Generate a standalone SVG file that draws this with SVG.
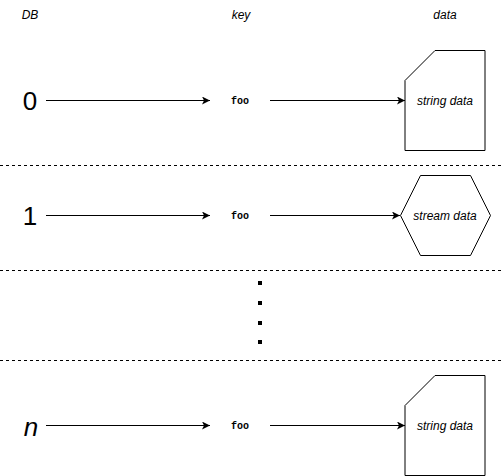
<svg xmlns="http://www.w3.org/2000/svg" width="502" height="476" viewBox="0 0 502 476">
<defs>
<marker id="arr" markerWidth="10" markerHeight="10" refX="8" refY="4" orient="auto" markerUnits="userSpaceOnUse">
<path d="M0,0 L8,4 L0,8 L2,4 Z" fill="#000"/>
</marker>
<style>
.hdr{font-family:"Liberation Sans",Arial,sans-serif;font-size:12px;font-style:italic;fill:#000;text-anchor:middle}
.db{font-family:"Liberation Sans",Arial,sans-serif;font-size:26px;fill:#000;text-anchor:middle}
.key{font-family:"Liberation Mono","Courier New",monospace;font-size:10px;font-weight:bold;fill:#000;text-anchor:middle}
.lbl{font-family:"Liberation Sans",Arial,sans-serif;font-size:12px;font-style:italic;fill:#000;text-anchor:middle}
.shape{fill:#fff;stroke:#000;stroke-width:1}
.sep{stroke:#000;stroke-width:1;stroke-dasharray:3 3}
.edge{stroke:#000;stroke-width:1;fill:none;marker-end:url(#arr)}
</style>
</defs>
<rect width="502" height="476" fill="#fff"/>
<g id="headers">
<text class="hdr" x="30" y="19">DB</text>
<text class="hdr" x="241" y="19">key</text>
<text class="hdr" x="445" y="19">data</text>
</g>
<g id="separators">
<line class="sep" x1="0" y1="165.5" x2="502" y2="165.5"/>
<line class="sep" x1="0" y1="270.5" x2="502" y2="270.5"/>
<line class="sep" x1="0" y1="360.5" x2="502" y2="360.5"/>
</g>
<g id="db0"><text class="db" x="30" y="110">0</text></g>
<g id="key0"><text class="key" x="240" y="104">foo</text></g>
<g id="data0">
<path class="shape" d="M435,50.5 L485,50.5 L485,150.5 L405,150.5 L405,80.5 Z"/>
<text class="lbl" x="445" y="104.5">string data</text>
</g>
<g id="db1"><text class="db" x="30" y="225">1</text></g>
<g id="key1"><text class="key" x="240" y="219">foo</text></g>
<g id="data1">
<path class="shape" d="M400.5,215.5 L420.5,175.5 L470.5,175.5 L490.5,215.5 L470.5,255.5 L420.5,255.5 Z"/>
<text class="lbl" x="445" y="219.5">stream data</text>
</g>
<g id="ellipsis">
<rect x="258" y="281" width="4" height="4" fill="#000"/>
<rect x="258" y="301" width="4" height="4" fill="#000"/>
<rect x="258" y="321" width="4" height="4" fill="#000"/>
<rect x="258" y="340" width="4" height="4" fill="#000"/>
</g>
<g id="dbn"><text class="db" x="31" y="436" font-size="30" font-style="italic">n</text></g>
<g id="keyn"><text class="key" x="240" y="429">foo</text></g>
<g id="datan">
<path class="shape" d="M435,375.5 L485,375.5 L485,475.5 L405,475.5 L405,405.5 Z"/>
<text class="lbl" x="445" y="429.5">string data</text>
</g>
<g id="connectors">
<line class="edge" x1="46" y1="100.5" x2="210" y2="100.5"/>
<line class="edge" x1="270" y1="100.5" x2="405" y2="100.5"/>
<line class="edge" x1="46" y1="215.5" x2="210" y2="215.5"/>
<line class="edge" x1="270" y1="215.5" x2="400" y2="215.5"/>
<line class="edge" x1="46" y1="425.5" x2="210" y2="425.5"/>
<line class="edge" x1="270" y1="425.5" x2="405" y2="425.5"/>
</g>
</svg>
